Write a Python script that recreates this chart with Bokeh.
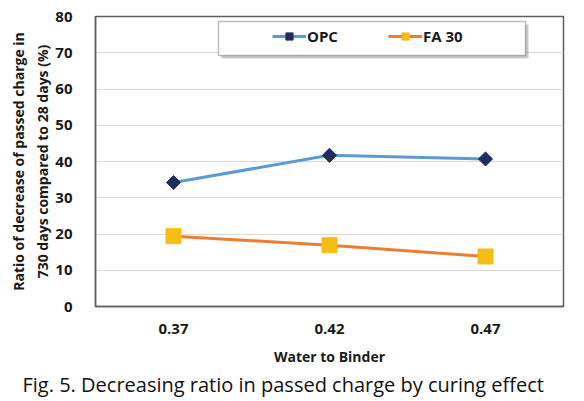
import math
from bokeh.plotting import figure
from bokeh.models import (FactorRange, Range1d, BoxAnnotation, Legend,
                          LegendItem, FixedTicker, Title)
from bokeh.embed import file_html
from bokeh.resources import INLINE

# ---- data ----
wb_ratio = ["0.37", "0.42", "0.47"]
opc = [34.2, 41.7, 40.7]
fa30 = [19.4, 16.9, 13.8]
y_ticks = [0, 10, 20, 30, 40, 50, 60, 70, 80]
series_names = ["OPC", "FA 30"]
x_title = "Water to Binder"
y_title_1 = "Ratio of decrease of passed charge in"
y_title_2 = "730 days compared to 28 days (%)"
caption = "Fig. 5. Decreasing ratio in passed charge by curing effect"

FONT = "Open Sans"

p = figure(width=584, height=401, x_range=FactorRange(*wb_ratio),
           y_range=Range1d(0, 80), output_backend="svg", toolbar_location=None,
           min_border_left=95, min_border_right=21, min_border_top=16,
           min_border_bottom=95)

p.outline_line_color = "#5f5f5f"
p.outline_line_width = 1.5
p.background_fill_color = "white"
p.border_fill_color = "white"

p.xgrid.grid_line_color = None
p.ygrid.grid_line_color = "#d9d9d9"
p.ygrid.grid_line_width = 1
p.yaxis.ticker = FixedTicker(ticks=y_ticks)

for ax in (p.xaxis[0], p.yaxis[0]):
    ax.axis_line_color = "#5f5f5f"
    ax.axis_line_width = 1.5
    ax.major_tick_line_color = None
    ax.minor_tick_line_color = None
    ax.major_label_text_font = FONT
    ax.major_label_text_font_style = "bold"
    ax.major_label_text_font_size = "15px"
    ax.major_label_text_color = "#1a1a1a"

p.yaxis.major_label_standoff = 17
p.xaxis.major_label_standoff = 11
p.xaxis.axis_label = x_title
p.xaxis.axis_label_text_font = FONT
p.xaxis.axis_label_text_font_style = "bold"
p.xaxis.axis_label_text_font_size = "14px"
p.xaxis.axis_label_text_color = "#1a1a1a"
p.xaxis.axis_label_standoff = 10

# legend box and shadow
p.add_layout(BoxAnnotation(left=126, right=433, bottom=248, top=282,
                           left_units="screen", right_units="screen",
                           bottom_units="screen", top_units="screen",
                           fill_color="#8a8a8a", fill_alpha=0.45, line_alpha=0))
p.add_layout(BoxAnnotation(left=123, right=430, bottom=251, top=285,
                           left_units="screen", right_units="screen",
                           bottom_units="screen", top_units="screen",
                           fill_color="white", fill_alpha=1.0,
                           line_color="#222222", line_width=1.5))

r1 = p.line(wb_ratio, opc, line_color="#5b9bd5", line_width=3)
m1 = p.scatter(wb_ratio, opc, marker="square", angle=math.pi / 4, size=10,
               fill_color="#1f2d5e", line_color="#1f2d5e")
r2 = p.line(wb_ratio, fa30, line_color="#ed7d31", line_width=3)
m2 = p.scatter(wb_ratio, fa30, marker="square", size=15, fill_color="#f6bd16",
               line_color="#f6bd16")

legend = Legend(items=[LegendItem(label=series_names[0], renderers=[r1, m1]),
                       LegendItem(label=series_names[1], renderers=[r2, m2])],
                orientation="horizontal", location=(171, 254),
                border_line_alpha=0, background_fill_alpha=0,
                padding=6, margin=0, spacing=50, glyph_width=34,
                glyph_height=18, label_standoff=1,
                label_text_font=FONT, label_text_font_style="bold",
                label_text_font_size="15px", label_text_color="#1a1a1a")
p.add_layout(legend, "center")

# y-axis title (two lines), inner line first
p.add_layout(Title(text=y_title_2, align="center", standoff=2,
                   text_font=FONT, text_font_style="bold",
                   text_font_size="14px", text_color="#1a1a1a"), "left")
p.add_layout(Title(text=y_title_1, align="center", standoff=3,
                   text_font=FONT, text_font_style="bold",
                   text_font_size="14px", text_color="#1a1a1a"), "left")

# caption under the chart
p.add_layout(Title(text=caption, align="left", offset=-73, standoff=1,
                   text_font=FONT, text_font_style="normal",
                   text_font_size="20px", text_color="#111111"), "below")

open("out.html", "w").write(file_html(p, INLINE))
